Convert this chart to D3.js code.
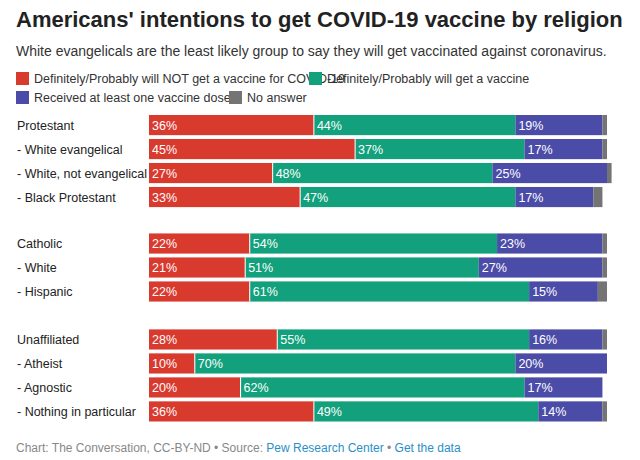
<!DOCTYPE html><html><head><meta charset="utf-8"><script src="https://cdn.jsdelivr.net/npm/d3@7"></script>
<style>body{margin:0;background:#fff;font-family:"Liberation Sans",Arial,sans-serif}</style></head><body><svg id="c" width="640" height="460"></svg>
<script>
const categories=["Protestant","- White evangelical","- White, not evangelical","- Black Protestant","","Catholic","- White","- Hispanic","","Unaffiliated","- Atheist","- Agnostic","- Nothing in particular"];
const notGet=[36,45,27,33,null,22,21,22,null,28,10,20,36];
const willGet=[44,37,48,47,null,54,51,61,null,55,70,62,49];
const received=[19,17,25,17,null,23,27,15,null,16,20,17,14];
const noAnswer=[1,1,1,2,null,1,1,2,null,1,0,0,1];
const seriesNames=["Definitely/Probably will NOT get a vaccine for COVID-19","Definitely/Probably will get a vaccine","Received at least one vaccine dose","No answer"];
const colors=["#d93a2e","#12a17c","#4b4ba8","#747474"];
const svg=d3.select("#c");
svg.append("text").attr("x",16).attr("y",27).attr("font-size",22).attr("font-weight",700).attr("fill","#222").text("Americans' intentions to get COVID-19 vaccine by religion");
svg.append("text").attr("x",16).attr("y",56).attr("font-size",14).attr("fill","#333").text("White evangelicals are the least likely group to say they will get vaccinated against coronavirus.");
const leg=[[16,72],[309,72],[16,91],[229,91]];
seriesNames.forEach((n,i)=>{svg.append("rect").attr("x",leg[i][0]).attr("y",leg[i][1]).attr("width",13).attr("height",13).attr("fill",colors[i]);
svg.append("text").attr("x",leg[i][0]+18).attr("y",leg[i][1]+11).attr("font-size",12.5).attr("fill","#333").text(n);});
const x=d3.scaleLinear().domain([0,100]).range([149,607]);
const y=d3.scaleBand().domain(d3.range(categories.length)).range([115,423]).paddingInner(0.16).paddingOuter(0);
const adj=[0,0,0,0,0,-1.5,-1.5,-1.5,0,-1.5,-1.5,-1.5,-1.5];
categories.forEach((c,i)=>{if(!c)return;const yy=y(i)+adj[i];
svg.append("text").attr("x",17).attr("y",yy+y.bandwidth()/2+4.5).attr("font-size",12.5).attr("fill","#222").text(c);
const vals=[notGet[i],willGet[i],received[i],noAnswer[i]];let acc=0;
vals.forEach((v,j)=>{if(v>0){svg.append("rect").attr("x",x(acc)).attr("y",yy).attr("width",x(acc+v)-x(acc)).attr("height",y.bandwidth()).attr("fill",colors[j]);
if(j<3)svg.append("text").attr("x",x(acc)+3).attr("y",yy+y.bandwidth()/2+4.5).attr("font-size",12.5).attr("fill","#fff").text(v+"%");}acc+=v;});
svg.append("line").attr("x1",x(notGet[i])).attr("x2",x(notGet[i])).attr("y1",yy).attr("y2",yy+y.bandwidth()).attr("stroke","#fff");
});
const f=svg.append("text").attr("x",16).attr("y",452).attr("font-size",12).attr("fill","#888");
f.append("tspan").text("Chart: The Conversation, CC-BY-ND • Source: ");
f.append("tspan").attr("fill","#2a8fc7").text("Pew Research Center");
f.append("tspan").text(" • ");
f.append("tspan").attr("fill","#2a8fc7").text("Get the data");
</script></body></html>
